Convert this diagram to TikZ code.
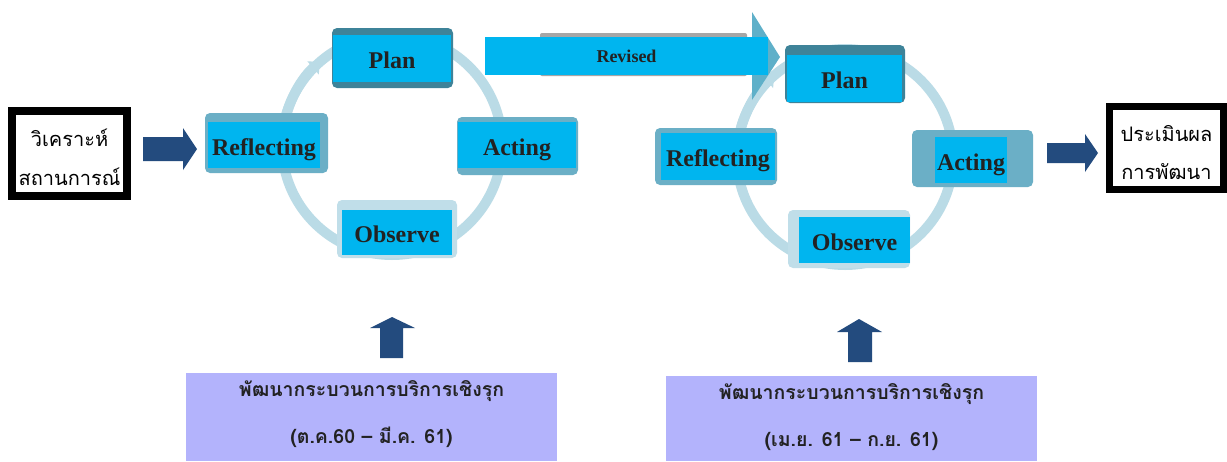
\documentclass[tikz,border=0pt]{standalone}
\usepackage{fontspec}
\setmainfont{Liberation Serif}
\newfontfamily\thai[Script=Thai]{Loma}
\usetikzlibrary{arrows.meta}
\definecolor{cy}{HTML}{00B5EF}
\definecolor{darkarrow}{HTML}{234B7E}
\definecolor{ringc}{HTML}{BADBE6}
\definecolor{tealdark}{HTML}{3E8399}
\definecolor{tealmid}{HTML}{6BAFC6}
\definecolor{teallight}{HTML}{C0DEE9}
\definecolor{lav}{HTML}{B3B3FC}
\definecolor{txt}{HTML}{222222}
\definecolor{chev}{HTML}{5FB0C9}
\begin{document}
\begin{tikzpicture}[x=1pt,y=-1pt,
  outerbox/.style={rounded corners=5pt, minimum width=#1},
  innerbox/.style={fill=cy, inner sep=0pt, minimum width=#1},
  lbl/.style={font=\fontsize{24}{28}\selectfont\bfseries, text=txt, text height=22pt, text depth=2pt},
  ring/.style={draw=ringc, line width=10pt},
  thaibox/.style={draw=black, line width=8pt, fill=white, inner sep=0pt},
  thaitxt/.style={align=center, inner sep=0pt, font=\thai\fontsize{20}{39}\selectfont},
  lavbox/.style={fill=lav, inner sep=0pt},
  lavtxt/.style={align=center, inner sep=0pt, text=txt, font=\thai\bfseries\fontsize{19.5}{47}\selectfont},
  bigarrow/.style={fill=darkarrow}
]
\useasboundingbox (0,0) rectangle (1227,461);
\fill[white] (0,0) rectangle (1227,461);

% rings
\coordinate (c1) at (392,145);
\coordinate (c2) at (845,157);
\draw[ring] (c1) circle (110);
\draw[ring, -{Triangle[width=17pt,length=9pt]}] (c1) ++(-165:110) arc (-165:-131:110);
\draw[ring] (c2) circle (108);
\draw[ring, -{Triangle[width=17pt,length=9pt]}] (c2) ++(-165:108) arc (-165:-131:108);

% revised arrow
\fill[chev] (752,12) -- (780,57) -- (752,100) -- cycle;
\fill[gray!70, rounded corners=2pt] (540,33) rectangle (747,76);
\node[fill=cy, minimum width=283, minimum height=38, inner sep=0pt,
  font=\fontsize{18}{20}\selectfont\bfseries, text=txt] (rev) at (626.5,56) {Revised};

% cycle 1
\node[outerbox=121, fill=tealdark, minimum height=60] (p1o) at (392.5,58) {};
\node[innerbox=118, minimum height=47, lbl] (p1) at (392,58.5) {Plan};
\node[outerbox=123, fill=tealmid, minimum height=60] (r1o) at (266.5,143) {};
\node[innerbox=112, minimum height=46, lbl] (r1) at (264,145) {Reflecting};
\node[outerbox=121, fill=tealmid, minimum height=58] (a1o) at (517.5,146) {};
\node[innerbox=118, minimum height=46, lbl] (a1) at (517,145) {Acting};
\node[outerbox=120, fill=teallight, minimum height=58] (o1o) at (397,229) {};
\node[innerbox=110, minimum height=45, lbl] (o1) at (397,232.5) {Observe};

% cycle 2
\node[outerbox=120, fill=tealdark, minimum height=58] (p2o) at (845,74) {};
\node[innerbox=115, minimum height=47, lbl] (p2) at (844.5,78.5) {Plan};
\node[outerbox=122, fill=tealmid, minimum height=57] (r2o) at (716,156.5) {};
\node[innerbox=114, minimum height=47, lbl] (r2) at (718,156.5) {Reflecting};
\node[outerbox=121, fill=tealmid, minimum height=57] (a2o) at (972.5,158.5) {};
\node[innerbox=72, minimum height=46, lbl] (a2) at (971,160) {Acting};
\node[outerbox=122, fill=teallight, minimum height=58] (o2o) at (849,239) {};
\node[innerbox=111, minimum height=46, lbl] (o2) at (854.5,240) {Observe};

% side boxes
\node[thaibox, minimum width=115, minimum height=85] (left) at (69.5,153.5) {};
\node[thaitxt] (lefttxt) at (69.5,157) {วิเคราะห์\\สถานการณ์};
\node[thaibox, line width=7pt, minimum width=114, minimum height=83] (right) at (1166.5,148) {};
\node[thaitxt, font=\thai\fontsize{20}{38}\selectfont] (righttxt) at (1166.5,153) {ประเมินผล\\การพัฒนา};

% big arrows
\fill[bigarrow] (143,137) -- (183,137) -- (183,128) -- (197,149) -- (183,170) -- (183,161) -- (143,161) -- cycle;
\fill[bigarrow] (1047,143) -- (1085,143) -- (1085,134) -- (1098,153) -- (1085,172) -- (1085,163) -- (1047,163) -- cycle;

% bottom boxes
\node[lavbox, minimum width=371, minimum height=88] (b1) at (371.5,417) {};
\node[lavtxt] (b1t) at (371.5,414) {พัฒนากระบวนการบริการเชิงรุก\\(ต.ค.60 – มี.ค. 61)};
\node[lavbox, minimum width=371, minimum height=85] (b2) at (851.5,418.5) {};
\node[lavtxt] (b2t) at (851.5,417) {พัฒนากระบวนการบริการเชิงรุก\\(เม.ย. 61 – ก.ย. 61)};

% up arrows
\fill[bigarrow] (380,358) -- (380,328) -- (370,328) -- (392,317) -- (415,328) -- (403,328) -- (403,358) -- cycle;
\fill[bigarrow] (848,362) -- (848,332) -- (837,332) -- (859,319) -- (882,332) -- (872,332) -- (872,362) -- cycle;
\end{tikzpicture}
\end{document}
